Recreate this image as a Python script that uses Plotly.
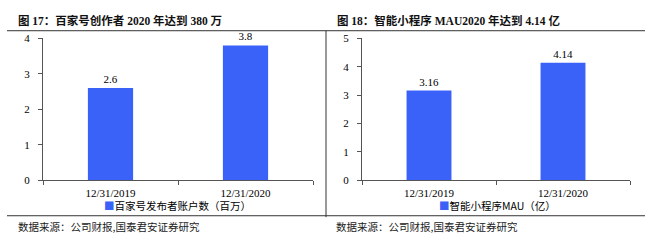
import plotly.graph_objects as go

W, H = 653, 246

categories = ["12/31/2019", "12/31/2020"]
left_values = [2.6, 3.8]
left_labels = ["2.6", "3.8"]
right_values = [3.16, 4.14]
right_labels = ["3.16", "4.14"]
left_series = "百家号发布者账户数（百万）"
right_series = "智能小程序MAU（亿）"
left_title = "图 17：百家号创作者 2020 年达到 380 万"
right_title = "图 18：智能小程序 MAU2020 年达到 4.14 亿"
source = "数据来源：公司财报,国泰君安证券研究"

BAR = "#3A62F8"
AX = "#555555"
SERIF = "Liberation Serif, Noto Sans CJK SC, serif"
SANS = "Noto Sans CJK SC, sans-serif"

def px(x):
    return x / W

def py(y):
    return 1 - y / H

fig = go.Figure()
fig.add_trace(go.Bar(x=categories, y=left_values, text=left_labels, textposition="outside",
                     marker=dict(color=BAR, line=dict(width=0)), width=0.335,
                     textfont=dict(family=SERIF, size=11, color="#000"),
                     cliponaxis=False, xaxis="x", yaxis="y", showlegend=False))
fig.add_trace(go.Bar(x=categories, y=right_values, text=right_labels, textposition="outside",
                     marker=dict(color=BAR, line=dict(width=0)), width=0.335,
                     textfont=dict(family=SERIF, size=11, color="#000"),
                     cliponaxis=False, xaxis="x2", yaxis="y2", showlegend=False))

axis_common = dict(showgrid=False, zeroline=False, showline=True, linecolor=AX, linewidth=1,
                   ticks="outside", ticklen=4, tickcolor=AX,
                   tickfont=dict(family=SERIF, size=11, color="#000"), fixedrange=True)

fig.update_layout(
    width=W, height=H, margin=dict(l=0, r=0, t=0, b=0),
    paper_bgcolor="white", plot_bgcolor="white", showlegend=False,
    xaxis=dict(domain=[px(43), px(313)], anchor="y", type="category", tickson="boundaries",
               ticklabelstandoff=3, **axis_common),
    yaxis=dict(domain=[py(183), py(34)], anchor="x", range=[0, 4], dtick=1,
               ticklabelstandoff=6, **axis_common),
    xaxis2=dict(domain=[px(362), px(630)], anchor="y2", type="category", tickson="boundaries",
                ticklabelstandoff=3, **axis_common),
    yaxis2=dict(domain=[py(183), py(34)], anchor="x2", range=[0, 5], dtick=1,
                ticklabelstandoff=6, **axis_common),
)

ann = []
ann.append(dict(x=px(16), y=py(15), xref="paper", yref="paper", xanchor="left", yanchor="middle",
                text="<b>" + left_title + "</b>", showarrow=False,
                font=dict(family=SERIF, size=11.5, color="#111")))
ann.append(dict(x=px(335), y=py(15), xref="paper", yref="paper", xanchor="left", yanchor="middle",
                text="<b>" + right_title + "</b>", showarrow=False,
                font=dict(family=SERIF, size=11.5, color="#111")))
ann.append(dict(x=px(16), y=py(232), xref="paper", yref="paper", xanchor="left", yanchor="middle",
                text=source, showarrow=False, font=dict(family=SANS, size=10.5, color="#222")))
ann.append(dict(x=px(334), y=py(232), xref="paper", yref="paper", xanchor="left", yanchor="middle",
                text=source, showarrow=False, font=dict(family=SANS, size=10.5, color="#222")))
# legends
ann.append(dict(x=px(178), y=py(210), xref="paper", yref="paper", xanchor="center", yanchor="middle",
                text="<span style='color:" + BAR + "'>■</span>" + left_series, showarrow=False,
                font=dict(family=SANS, size=10.5, color="#000")))
ann.append(dict(x=px(497), y=py(210), xref="paper", yref="paper", xanchor="center", yanchor="middle",
                text="<span style='color:" + BAR + "'>■</span>" + right_series, showarrow=False,
                font=dict(family=SANS, size=10.5, color="#000")))
fig.update_layout(annotations=ann)

line = dict(color="#333", width=1)
shapes = [
    dict(type="line", xref="paper", yref="paper", x0=px(7), x1=px(326), y0=py(26), y1=py(26), line=line),
    dict(type="line", xref="paper", yref="paper", x0=px(326), x1=px(645), y0=py(26), y1=py(26), line=line),
    dict(type="line", xref="paper", yref="paper", x0=px(7), x1=px(645), y0=py(220.5), y1=py(220.5), line=line),
    dict(type="line", xref="paper", yref="paper", x0=px(326), x1=px(326), y0=py(26), y1=py(222), line=line),
]
fig.update_layout(shapes=shapes)

fig.write_html("out.html")
